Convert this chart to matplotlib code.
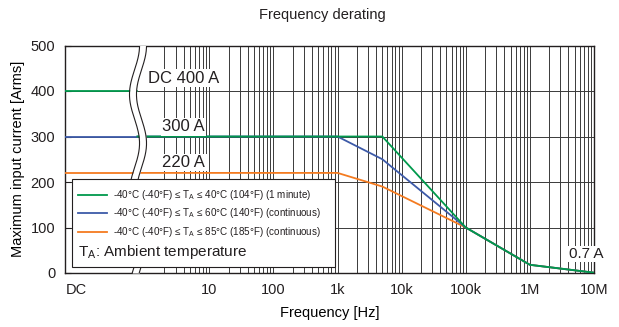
import numpy as np
import matplotlib
matplotlib.use("Agg")
import matplotlib.pyplot as plt
from matplotlib.lines import Line2D
from matplotlib.patches import Rectangle

# --- data ---
freq_ac = [1, 1e3, 5e3, 1e5, 1e6, 1e7]
green_ac = [300, 300, 300, 100, 18, 0.7]     # 1 minute, up to 40 degC
blue_ac = [300, 300, 250, 100, 18, 0.7]      # continuous, up to 60 degC
orange_ac = [220, 220, 190, 100, 18, 0.7]    # continuous, up to 85 degC
dc_green, dc_blue, dc_orange = 400, 300, 220

x_tick_pos = [10 ** -1.08, 10, 100, 1e3, 1e4, 1e5, 1e6, 1e7]
x_tick_labels = ["DC", "10", "100", "1k", "10k", "100k", "1M", "10M"]
y_ticks = [0, 100, 200, 300, 400, 500]

legend_labels = [
    r"-40°C (-40°F) ≤ T$_\mathregular{A}$ ≤ 40°C (104°F) (1 minute)",
    r"-40°C (-40°F) ≤ T$_\mathregular{A}$ ≤ 60°C (140°F) (continuous)",
    r"-40°C (-40°F) ≤ T$_\mathregular{A}$ ≤ 85°C (185°F) (continuous)",
]

GREEN, BLUE, ORANGE = "#00994c", "#3d5aa8", "#f47b20"
INK = "#231f20"
GRID = "#3a3a3a"

plt.rcParams["font.family"] = ["Liberation Sans", "DejaVu Sans"]
plt.rcParams["text.color"] = INK

fig = plt.figure(figsize=(6.19, 3.27), dpi=100)
ax = fig.add_axes([65 / 619, (327 - 273) / 327, 529 / 619, 227.5 / 327])

x_min, x_brk = 10 ** -1.25, 10 ** -0.12
ax.set_xscale("log")
ax.set_xlim(x_min, 1e7)
ax.set_ylim(0, 500)

# grid: vertical only on the AC part (2 Hz .. 10M), horizontal full width
grid_x = [m * 10.0 ** d for d in range(0, 7) for m in range(2, 11)]
for gx in grid_x:
    ax.axvline(gx, color=GRID, lw=0.7, zorder=1)
for gy in y_ticks[1:-1]:
    ax.axhline(gy, color=GRID, lw=0.7, zorder=1)

# DC portion (left of the break)
ax.plot([x_min, x_brk], [dc_orange] * 2, color=ORANGE, lw=1.3, zorder=4)
ax.plot([x_min, x_brk], [dc_blue] * 2, color=BLUE, lw=1.3, zorder=4)
ax.plot([x_min, x_brk], [dc_green] * 2, color=GREEN, lw=1.3, zorder=4)
# AC portion
ax.plot([x_brk] + freq_ac, [orange_ac[0]] + orange_ac, color=ORANGE, lw=1.3, zorder=4)
ax.plot([x_brk] + freq_ac, [blue_ac[0]] + blue_ac, color=BLUE, lw=1.3, zorder=4)
ax.plot([x_brk] + freq_ac, [green_ac[0]] + green_ac, color=GREEN, lw=1.3, zorder=4)

# axis break (wavy white band)
yy = np.linspace(0, 1, 200)
xc = 0.138 + 0.0095 * np.cos(2 * np.pi * (yy - 1) / 0.43)
ax.fill_betweenx(yy, xc - 0.0066, xc + 0.0066, color="white", lw=0,
                 transform=ax.transAxes, zorder=5)
ax.plot(xc - 0.0066, yy, color=INK, lw=0.8, transform=ax.transAxes, zorder=5)
ax.plot(xc + 0.0066, yy, color=INK, lw=0.8, transform=ax.transAxes, zorder=5)

# value callouts
box = dict(facecolor="white", edgecolor="none", pad=1.0)
ax.text(4.0, 428, "DC 400 A", fontsize=12, ha="center", va="center", bbox=box, zorder=6)
ax.text(4.0, 321, "300 A", fontsize=12, ha="center", va="center", bbox=box, zorder=6)
ax.text(4.0, 243, "220 A", fontsize=12, ha="center", va="center", bbox=box, zorder=6)
ax.text(7.6e6, 42, "0.7 A", fontsize=11, ha="center", va="center", bbox=box,
        zorder=7, clip_on=False)

# legend box drawn by hand
ax.add_patch(Rectangle((0.013, 0.026), 0.497, 0.387, transform=ax.transAxes,
                       facecolor="white", edgecolor=INK, lw=0.8, zorder=6))
row_y = [0.343, 0.264, 0.18]
for ry, col, lab in zip(row_y, [GREEN, BLUE, ORANGE], legend_labels):
    ax.add_line(Line2D([0.0246, 0.079], [ry, ry], color=col, lw=1.3,
                       transform=ax.transAxes, zorder=7))
    ax.text(0.091, ry, lab, transform=ax.transAxes, fontsize=7.1, va="center",
            zorder=7)
ax.text(0.024, 0.092, r"T$_\mathregular{A}$: Ambient temperature", transform=ax.transAxes,
        fontsize=11, va="center", zorder=7)

# axes styling
ax.set_xticks(x_tick_pos, x_tick_labels)
ax.set_xticks([], minor=True)
ax.set_yticks(y_ticks)
ax.tick_params(axis="x", length=0, pad=7, labelsize=10.5, colors=INK)
ax.tick_params(axis="y", direction="in", length=4, pad=7, labelsize=10.5, colors=INK)
for s in ax.spines.values():
    s.set_color(INK)
    s.set_linewidth(1.0)

ax.set_ylabel("Maximum input current [Arms]", fontsize=10.5)
ax.yaxis.set_label_coords(-0.0756, 0.5)
ax.set_xlabel("Frequency [Hz]", fontsize=10.5)
ax.xaxis.set_label_coords(0.5, -0.145)
fig.text(322 / 619, 1 - 15 / 327, "Frequency derating", fontsize=10.5,
         ha="center", va="center")

fig.savefig("out.png", dpi=100)
